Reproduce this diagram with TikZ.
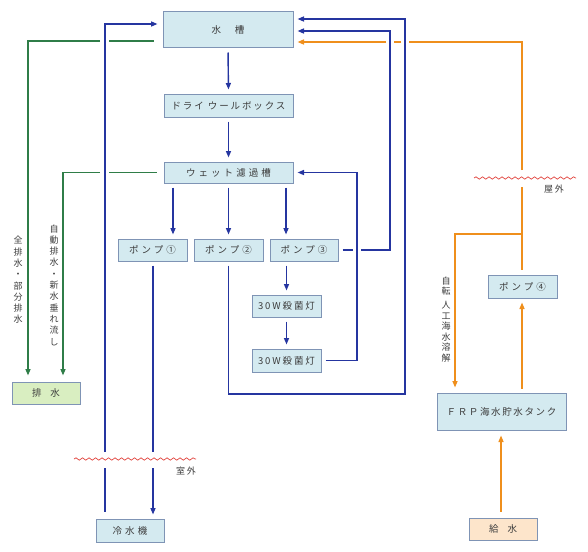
\documentclass[tikz,border=0pt]{standalone}
\usepackage{fontspec}
\setmainfont{Noto Sans CJK JP}
\usetikzlibrary{arrows.meta,decorations.pathmorphing}
\definecolor{boxfill}{HTML}{D4EAF0}
\definecolor{boxline}{HTML}{7F94B5}
\definecolor{drainfill}{HTML}{D9EEC1}
\definecolor{feedfill}{HTML}{FDE5CB}
\definecolor{pipeblue}{HTML}{2535A0}
\definecolor{pipegreen}{HTML}{2F7D48}
\definecolor{pipeorange}{HTML}{EF8F1C}
\definecolor{wavered}{HTML}{E0413B}
\definecolor{labelgray}{HTML}{3C3C3C}
\newcommand{\spaced}[1]{\addfontfeature{LetterSpace=#1}}

\begin{document}
\begin{tikzpicture}[x=1pt,y=-1pt,
		unit/.style={draw=boxline,line width=1pt,fill=boxfill,inner sep=0pt,text=labelgray,font=\fontsize{9.5}{11}\selectfont},
		vlabel/.style={align=center,inner sep=0pt,text=labelgray,font=\fontsize{9}{11.3}\selectfont},
		bline/.style={pipeblue,line width=1.4pt},
		gline/.style={pipegreen,line width=1.4pt},
		oline/.style={pipeorange,line width=1.4pt},
		tip/.style={-{Triangle[length=6.5pt,width=5pt]}},
		pipe/.style={shorten <=4pt,shorten >=4pt},
		wave/.style={wavered,line width=0.7pt,decorate,decoration={snake,amplitude=1.2pt,segment length=6.5pt}}]
			\useasboundingbox (0,0) rectangle (588,551);
			\node[unit,minimum width=130pt,minimum height=36pt] (tank) at (228,30) {水\hspace{14pt}槽};
			\node[unit,minimum width=129pt,minimum height=23pt] (dry) at (228.5,105.5) {\spaced{20}ドライ ウールボックス};
			\node[unit,minimum width=129pt,minimum height=21pt] (wet) at (228.5,172.5) {\spaced{32}ウェット濾過槽};
			\node[unit,minimum width=69pt,minimum height=22pt] (pumpA) at (152.5,250) {\spaced{32}ポンプ①};
			\node[unit,minimum width=69pt,minimum height=22pt] (pumpB) at (228.5,250) {\spaced{32}ポンプ②};
			\node[unit,minimum width=68pt,minimum height=22pt] (pumpC) at (304,250) {\spaced{32}ポンプ③};
			\node[unit,minimum width=69pt,minimum height=22pt] (lampA) at (286.5,306) {\spaced{20}30W殺菌灯};
			\node[unit,minimum width=69pt,minimum height=23pt] (lampB) at (286.5,360.5) {\spaced{20}30W殺菌灯};
			\node[unit,minimum width=68pt,minimum height=23pt] (chiller) at (130,530.5) {\spaced{32}冷水機};
			\node[unit,fill=drainfill,minimum width=68pt,minimum height=22pt] (drain) at (46,393) {排\hspace{9pt}水};
			\node[unit,minimum width=69pt,minimum height=23pt] (pumpD) at (522.5,286.5) {\spaced{32}ポンプ④};
			\node[unit,minimum width=129pt,minimum height=37pt] (frp) at (501.5,411.5) {\spaced{17}ＦＲＰ海水貯水タンク};
			\node[unit,fill=feedfill,minimum width=68pt,minimum height=22pt] (feed) at (503,529) {給\hspace{9pt}水};
			\node[vlabel] (drainA) at (18,280) {全\\排\\水\\・\\部\\分\\排\\水};
			\node[vlabel] (drainB) at (54,285) {自\\動\\排\\水\\・\\新\\水\\垂\\れ\\流\\し};
			\node[vlabel,font=\fontsize{9}{10.6}\selectfont] (salt) at (446,319.5) {自\\転\\[3pt]人\\工\\海\\水\\溶\\解};
			\draw[wave] (74,459) -- (196,459);
			\node[vlabel,font=\fontsize{9}{10}\selectfont\spaced{20}] (roomA) at (186,471) {室外};
			\draw[wave] (474,178) -- (576,178);
			\node[vlabel,font=\fontsize{9}{10}\selectfont\spaced{20}] (roomB) at (554,189) {屋外};
			\draw[bline,tip,pipe] (tank.south) -- (dry.north);
			\draw[bline,tip,pipe] (dry.south) -- (wet.north);
			\draw[bline,tip,pipe] (wet.south -| 173,0) -- (pumpA.north -| 173,0);
			\draw[bline,tip,pipe] (wet.south -| pumpB.north) -- (pumpB.north);
			\draw[bline,tip,pipe] (wet.south -| 286,0) -- (pumpC.north -| 286,0);
			\draw[bline,tip,pipe] (pumpC.south -| lampA.north) -- (lampA.north);
			\draw[bline,tip,pipe] (lampA.south) -- (lampB.north);
			\draw[bline,tip,pipe] (lampB.east) -| (wet.east -| 357,0) -- (wet.east);
			\draw[bline,shorten <=4pt] (pumpC.east) -- (pumpC.east -| 353,0);
			\draw[bline,tip,shorten >=4pt] (pumpC.east -| 361,0) -| (390,31) -- (tank.east |- 0,31);
			\draw[bline,tip,pipe] (pumpB.south) |- (405,394) -- (405,19) -- (tank.east |- 0,19);
			\draw[bline,shorten <=4pt] (pumpA.south -| 153,0) -- (153,452);
			\draw[bline,tip,shorten >=4pt] (153,468) -- (chiller.north -| 153,0);
			\draw[bline,shorten <=7pt] (chiller.north -| 105,0) -- (105,468);
			\draw[bline,tip,shorten >=5pt] (105,452) |- (tank.west |- 0,24);
			\draw[gline,shorten <=9pt] (tank.west |- 0,41) -- (109,41);
			\draw[gline,tip,shorten >=6pt] (100,41) -| (drain.north -| 28,0);
			\draw[gline,shorten <=7pt] (wet.west) -- (109,172.5);
			\draw[gline,tip,shorten >=6pt] (100,172.5) -| (drain.north -| 63,0);
			\draw[oline] (522,170) |- (409,42);
			\draw[oline] (401,42) -- (394,42);
			\draw[oline,tip,shorten >=4pt] (386,42) -- (tank.east |- 0,42);
			\draw[oline,shorten >=5pt] (522,187) -- (pumpD.north -| 522,0);
			\draw[oline,tip,shorten >=5pt] (522,234) -| (frp.north -| 455,0);
			\draw[oline,tip,pipe] (frp.north -| 522,0) -- (pumpD.south -| 522,0);
			\draw[oline,tip,shorten <=6pt,shorten >=5pt] (feed.north -| 501,0) -- (frp.south -| 501,0);
		\end{tikzpicture}
\end{document}
